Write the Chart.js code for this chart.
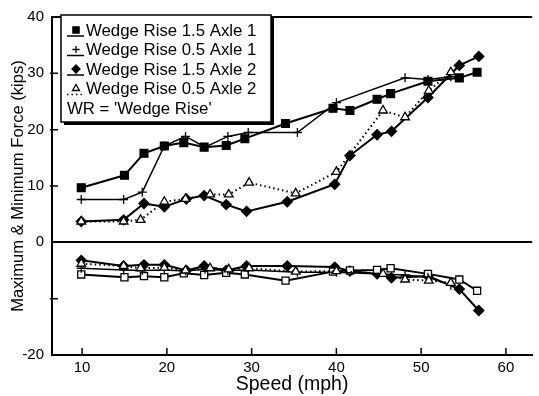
<!DOCTYPE html>
<html>
<head>
<meta charset="utf-8">
<script src="https://cdn.jsdelivr.net/npm/chart.js@4.4.1/dist/chart.umd.min.js"></script>
<style>
  body { margin: 0; background: #fff; }
  #wrap { width: 539px; height: 396px; }
</style>
</head>
<body>
<div id="wrap"><canvas id="force_chart" width="539" height="396"></canvas></div>
<script>
// series labels, as in the legend
var seriesNames = ["Wedge Rise 1.5 Axle 1", "Wedge Rise 0.5 Axle 1", "Wedge Rise 1.5 Axle 2", "Wedge Rise 0.5 Axle 2"];
var legendNote = "WR = 'Wedge Rise'";

// speeds (mph) and max / min force (kips)
var speedWr15A1 = [9.9, 15.0, 17.3, 19.7, 22.0, 24.4, 27.0, 29.2, 34.0, 39.6, 41.6, 44.8, 46.4, 50.8, 54.5, 56.6];
var maxWr15A1   = [9.7, 11.9, 15.8, 17.1, 17.7, 16.9, 17.2, 18.4, 21.1, 23.8, 23.4, 25.4, 26.4, 28.6, 29.2, 30.2];
var minWr15A1   = [-5.7, -6.2, -6.0, -6.2, -5.5, -5.8, -5.4, -5.7, -6.8, -5.2, -5.0, -4.9, -4.6, -5.6, -6.6, -8.6];

var speedWr05A1 = [9.9, 14.9, 17.1, 19.7, 22.2, 24.5, 27.2, 29.6, 35.4, 40.0, 48.1, 50.8, 53.5];
var maxWr05A1   = [7.6, 7.6, 8.9, 17.1, 18.8, 16.9, 18.8, 19.5, 19.5, 24.8, 29.2, 28.9, 29.4];
var minWr05A1   = [-4.6, -4.9, -5.0, -4.9, -5.1, -4.8, -5.0, -4.9, -5.3, -5.3, -5.8, -6.2, -7.6];

var speedWr15A2 = [9.9, 14.9, 17.3, 19.7, 22.3, 24.4, 27.0, 29.4, 34.2, 39.8, 41.6, 44.8, 46.5, 50.8, 54.5, 56.8];
var maxWr15A2   = [3.7, 4.0, 6.9, 6.3, 7.7, 8.3, 6.7, 5.5, 7.2, 10.3, 15.4, 19.1, 19.7, 25.7, 31.4, 33.0];
var minWr15A2   = [-3.2, -4.2, -4.0, -4.0, -5.0, -4.2, -5.0, -4.2, -4.2, -4.4, -5.1, -5.6, -6.3, -6.0, -8.3, -12.1];

var speedWr05A2 = [9.9, 14.9, 16.9, 19.7, 22.2, 25.1, 27.3, 29.7, 35.2, 40.0, 45.5, 48.1, 50.9, 53.5];
var maxWr05A2   = [3.7, 3.7, 4.0, 7.2, 7.7, 8.5, 8.5, 10.6, 8.7, 12.5, 23.4, 22.2, 26.9, 30.2];
var minWr05A2   = [-3.8, -4.2, -4.6, -4.5, -5.0, -4.6, -4.8, -4.6, -5.2, -5.1, -5.6, -6.6, -6.8, -7.2];

// axis ticks
var xTicks = [10, 20, 30, 40, 50, 60];
var yTicks = [-20, -10, 0, 10, 20, 30, 40];

var styles = [
    {point: 'rect', radius: 5.5, fill: '#000', width: 2, dash: []},
    {point: 'cross', radius: 4.5, fill: '#000', width: 1.5, dash: []},
    {point: 'rectRot', radius: 5, fill: '#000', width: 2, dash: []},
    {point: 'triangle', radius: 5, fill: '#fff', width: 2, dash: [1.5, 3]}
];

function makeSet(label, xs, ys, st) {
    return {
        label: label,
        data: xs.map(function (x, i) { return {x: x, y: ys[i]}; }),
        showLine: true,
        tension: 0,
        borderColor: '#000',
        borderWidth: st.width,
        borderDash: st.dash,
        pointStyle: st.point,
        pointRadius: st.radius,
        pointBackgroundColor: st.fill,
        pointBorderColor: '#000',
        pointBorderWidth: 1.3
    };
}

var openSquare = {point: 'rect', radius: 5, fill: '#fff', width: 2, dash: []};

var datasets = [
    makeSet(seriesNames[3], speedWr05A2, maxWr05A2, styles[3]),
    makeSet(seriesNames[3], speedWr05A2, minWr05A2, styles[3]),
    makeSet(seriesNames[1], speedWr05A1, maxWr05A1, styles[1]),
    makeSet(seriesNames[1], speedWr05A1, minWr05A1, styles[1]),
    makeSet(seriesNames[0], speedWr15A1, maxWr15A1, styles[0]),
    makeSet(seriesNames[0], speedWr15A1, minWr15A1, openSquare),
    makeSet(seriesNames[2], speedWr15A2, maxWr15A2, styles[2]),
    makeSet(seriesNames[2], speedWr15A2, minWr15A2, styles[2])
];

// inward tick marks like the original plot
var insideTicks = {
    id: 'insideTicks',
    afterDraw: function (chart) {
        var ctx = chart.ctx, area = chart.chartArea;
        var xs = chart.scales.x, ys = chart.scales.y;
        ctx.save();
        ctx.strokeStyle = '#000';
        ctx.lineWidth = 1.5;
        ctx.beginPath();
        xTicks.forEach(function (v) {
            var px = xs.getPixelForValue(v);
            ctx.moveTo(px, area.bottom);
            ctx.lineTo(px, area.bottom - 7);
        });
        yTicks.forEach(function (v) {
            if (v === -20 || v === 0 || v === 40) return;
            var py = ys.getPixelForValue(v);
            ctx.moveTo(area.left - 2, py);
            ctx.lineTo(area.left + 6, py);
        });
        ctx.stroke();
        ctx.restore();
    }
};

// boxed legend with drop shadow
var boxLegend = {
    id: 'boxLegend',
    afterDraw: function (chart) {
        var ctx = chart.ctx;
        var bx = 61, by = 15, bw = 210, bh = 107;
        ctx.save();
        ctx.fillStyle = '#000';
        ctx.fillRect(bx + 3, by + 3, bw, bh);
        ctx.fillStyle = '#fff';
        ctx.fillRect(bx, by, bw, bh);
        ctx.strokeStyle = '#000';
        ctx.lineWidth = 1.5;
        ctx.strokeRect(bx, by, bw, bh);

        ctx.font = '16.8px "Liberation Sans", Arial, sans-serif';
        ctx.textBaseline = 'middle';
        ctx.textAlign = 'left';
        for (var i = 0; i < seriesNames.length; i++) {
            var st = styles[i];
            var cy = 31 + i * 19.5;
            ctx.fillStyle = st.fill;
            ctx.strokeStyle = '#000';
            ctx.lineWidth = 1.3;
            ctx.setLineDash([]);
            Chart.helpers.drawPoint(ctx, {pointStyle: st.point, radius: st.radius * 0.8, rotation: 0, borderWidth: 1.3}, 76, cy - 1);
            ctx.beginPath();
            ctx.lineWidth = 1.5;
            ctx.setLineDash(st.dash);
            ctx.moveTo(67, cy + 5);
            ctx.lineTo(84, cy + 5);
            ctx.stroke();
            ctx.setLineDash([]);
            ctx.fillStyle = '#000';
            ctx.fillText(seriesNames[i], 86, cy);
        }
        ctx.fillText(legendNote, 67, 31 + 4 * 19.5);
        ctx.restore();
    }
};

var ctx = document.getElementById('force_chart');

var forceChart = new Chart(ctx, {
    type: 'scatter',
    data: {datasets: datasets},
    plugins: [insideTicks, boxLegend],
    options: {
        responsive: false,
        animation: false,
        layout: {padding: {top: 14, right: 0, bottom: 0, left: 0}},
        plugins: {legend: {display: false}, tooltip: {enabled: false}},
        scales: {
            x: {
                type: 'linear',
                min: 6.45,
                max: 63.1,
                afterBuildTicks: function (scale) {
                    scale.ticks = xTicks.map(function (v) { return {value: v}; });
                },
                afterFit: function (scale) { scale.height = 41; },
                grid: {display: false, drawTicks: false},
                border: {display: true, color: '#000', width: 2},
                ticks: {
                    color: '#000',
                    padding: 4,
                    maxRotation: 0,
                    font: {family: '"Liberation Sans", Arial, sans-serif', size: 15}
                },
                title: {
                    display: true,
                    text: 'Speed (mph)',
                    color: '#000',
                    padding: {top: 0, bottom: 0},
                    font: {family: '"Liberation Sans", Arial, sans-serif', size: 19.5}
                }
            },
            y: {
                min: -20,
                max: 40,
                afterBuildTicks: function (scale) {
                    scale.ticks = yTicks.map(function (v) { return {value: v}; });
                },
                afterFit: function (scale) { scale.width = 52; },
                grid: {
                    drawTicks: false,
                    color: function (c) {
                        return (c.tick && (c.tick.value === 0 || c.tick.value === 40)) ? '#000' : 'rgba(0,0,0,0)';
                    },
                    lineWidth: 2
                },
                border: {display: true, color: '#000', width: 2},
                ticks: {
                    color: '#000',
                    padding: 8,
                    font: {family: '"Liberation Sans", Arial, sans-serif', size: 15},
                    callback: function (v) { return v === -10 ? '' : v; }
                },
                title: {
                    display: true,
                    text: 'Maximum & Minimum Force (kips)',
                    color: '#000',
                    padding: {top: 8, bottom: 0},
                    font: {family: '"Liberation Sans", Arial, sans-serif', size: 16.6}
                }
            }
        }
    }
});
</script>
</body>
</html>
